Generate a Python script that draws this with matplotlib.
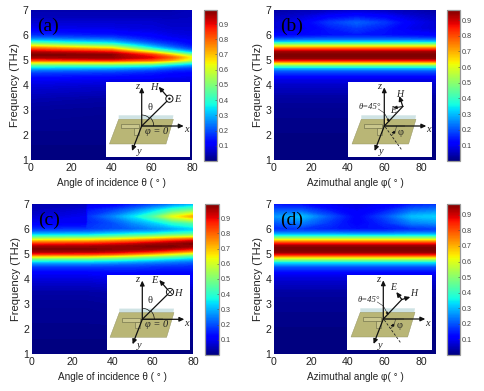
import numpy as np
import matplotlib
matplotlib.use("Agg")
import matplotlib.pyplot as plt
from matplotlib.cm import ScalarMappable
from matplotlib.colors import Normalize
from matplotlib.patches import Polygon, Rectangle, Circle, Arc

plt.rcParams['font.family'] = ['Liberation Sans', 'DejaVu Sans']

F = [1, 2, 3, 3.5, 4, 4.25, 4.5, 4.6, 4.7, 4.8, 4.9, 5, 5.1, 5.2, 5.3, 5.4, 5.5, 5.6, 5.7, 5.8, 5.9, 6, 6.25, 6.5, 6.75, 7]

THETA_A = [0, 40, 60, 70, 80]
a_0  = [.00,.01,.025,.045,.08,.11,.18,.24,.33,.45,.62,.82,.95,.99,.95,.85,.73,.57,.41,.29,.21,.16,.10,.07,.05,.04]
a_40 = [.00,.01,.02,.035,.07,.10,.17,.22,.31,.44,.63,.86,.97,.98,.90,.76,.60,.44,.32,.24,.18,.14,.09,.07,.05,.04]
a_60 = [.00,.01,.02,.035,.07,.10,.15,.19,.27,.40,.60,.80,.90,.84,.66,.46,.33,.25,.19,.15,.13,.11,.08,.07,.05,.04]
a_70 = [.00,.01,.02,.035,.07,.09,.13,.16,.22,.33,.50,.72,.80,.68,.47,.32,.23,.18,.15,.12,.10,.09,.07,.06,.05,.04]
a_80 = [.00,.01,.025,.04,.07,.09,.12,.15,.19,.27,.40,.58,.63,.49,.32,.21,.16,.13,.11,.10,.09,.08,.07,.06,.055,.05]

PHI_B = [0, 15, 30, 45, 60, 75, 88]
b_0  = [.00,.005,.015,.03,.06,.09,.17,.22,.31,.45,.64,.84,.95,.964,.93,.82,.66,.48,.33,.22,.15,.11,.07,.07,.05,.03]
b_15 = [.00,.005,.015,.03,.06,.09,.17,.22,.31,.45,.64,.84,.95,.964,.93,.82,.66,.48,.33,.23,.16,.12,.09,.10,.07,.04]
b_30 = [.00,.005,.015,.03,.06,.09,.17,.22,.31,.45,.64,.84,.95,.964,.93,.82,.66,.48,.33,.23,.17,.13,.14,.17,.11,.05]
b_45 = [.00,.005,.015,.03,.06,.09,.17,.22,.31,.45,.64,.84,.95,.964,.93,.82,.66,.48,.33,.23,.17,.14,.17,.21,.13,.06]
b_60 = [.00,.005,.015,.03,.06,.09,.17,.22,.31,.45,.64,.84,.95,.964,.93,.82,.66,.48,.33,.23,.17,.13,.14,.17,.11,.05]
b_75 = [.00,.005,.015,.03,.06,.09,.17,.22,.31,.45,.64,.84,.95,.964,.93,.82,.66,.48,.33,.23,.16,.12,.09,.10,.07,.04]
b_88 = [.00,.005,.015,.03,.06,.09,.17,.22,.31,.45,.64,.84,.95,.964,.93,.82,.66,.48,.33,.22,.15,.11,.07,.07,.05,.03]

THETA_C = [0, 27, 28, 40, 50, 60, 70, 80]
c_0  = [.00,.01,.02,.035,.08,.11,.18,.24,.33,.46,.64,.84,.96,.99,.95,.85,.72,.56,.41,.29,.21,.16,.10,.07,.05,.04]
c_27 = [.00,.01,.02,.035,.08,.11,.18,.24,.33,.45,.63,.83,.95,.99,.96,.87,.74,.58,.42,.30,.22,.17,.10,.10,.08,.05]
c_28 = [.00,.01,.02,.035,.08,.11,.18,.24,.33,.45,.63,.83,.95,.99,.96,.87,.74,.58,.42,.30,.22,.18,.16,.17,.14,.08]
c_40 = [.00,.01,.025,.04,.09,.12,.18,.23,.31,.43,.59,.80,.93,.98,.97,.89,.77,.61,.45,.33,.25,.20,.20,.25,.18,.10]
c_50 = [.00,.015,.03,.05,.10,.12,.18,.22,.29,.40,.55,.75,.90,.97,.98,.92,.80,.65,.48,.36,.27,.22,.26,.34,.24,.14]
c_60 = [.00,.015,.03,.05,.10,.12,.17,.21,.27,.37,.50,.69,.86,.96,.99,.95,.84,.69,.52,.38,.29,.25,.32,.44,.32,.18]
c_70 = [.00,.02,.035,.06,.10,.12,.16,.20,.25,.33,.45,.62,.79,.92,.99,.97,.89,.74,.56,.42,.33,.28,.40,.62,.42,.23]
c_80 = [.00,.02,.04,.06,.10,.12,.16,.19,.23,.30,.40,.55,.72,.87,.96,.99,.93,.78,.58,.44,.36,.32,.45,.72,.48,.28]

PHI_D = [0, 15, 30, 45, 60, 75, 88]
d_0  = [.00,.005,.015,.03,.07,.11,.20,.27,.36,.50,.67,.85,.95,.969,.94,.84,.69,.52,.38,.27,.20,.16,.20,.26,.20,.13]
d_15 = [.00,.005,.015,.03,.07,.11,.20,.27,.36,.50,.67,.85,.95,.969,.94,.84,.69,.52,.38,.27,.20,.17,.24,.30,.20,.12]
d_30 = [.00,.005,.015,.03,.07,.11,.20,.27,.36,.50,.67,.85,.95,.969,.94,.84,.69,.52,.38,.27,.19,.15,.17,.20,.14,.09]
d_45 = [.00,.005,.015,.03,.07,.11,.20,.27,.36,.50,.67,.85,.95,.969,.94,.84,.69,.52,.38,.26,.18,.13,.11,.11,.10,.08]
d_60 = [.00,.005,.015,.03,.07,.11,.20,.27,.36,.50,.67,.85,.95,.969,.94,.84,.69,.52,.38,.26,.18,.14,.16,.19,.14,.10]
d_75 = [.00,.005,.015,.03,.07,.11,.20,.27,.36,.50,.67,.85,.95,.969,.94,.84,.69,.52,.38,.27,.20,.16,.24,.30,.22,.14]
d_88 = [.00,.005,.015,.03,.07,.11,.20,.27,.36,.50,.67,.85,.95,.969,.94,.84,.69,.52,.38,.27,.20,.17,.26,.32,.24,.16]

X_TICKS = [0, 20, 40, 60, 80]
Y_TICKS = [1, 2, 3, 4, 5, 6, 7]
CB_TICKS = [.1, .2, .3, .4, .5, .6, .7, .8, .9]
XLABEL_THETA = "Angle of incidence \u03b8 ( \u00b0 )"
XLABEL_PHI = "Azimuthal angle \u03c6( \u00b0 )"
YLABEL = "Frequency (THz)"

W, H = 485, 391
fig = plt.figure(figsize=(W / 100, H / 100), dpi=100)


def box(x0, y0, x1, y1):
    return [x0 / W, 1 - y1 / H, (x1 - x0) / W, (y1 - y0) / H]


panels = [
    ("(a)", THETA_A, [a_0, a_40, a_60, a_70, a_80], .992, 80, XLABEL_THETA,
     (31, 10, 192, 160), (204, 10, 217, 161)),
    ("(b)", PHI_B, [b_0, b_15, b_30, b_45, b_60, b_75, b_88], .964, 88, XLABEL_PHI,
     (274, 10, 436, 160), (447, 10, 460, 161)),
    ("(c)", THETA_C, [c_0, c_27, c_28, c_40, c_50, c_60, c_70, c_80], .993, 80, XLABEL_THETA,
     (32, 204, 193, 354), (205, 204, 219, 355)),
    ("(d)", PHI_D, [d_0, d_15, d_30, d_45, d_60, d_75, d_88], .969, 88, XLABEL_PHI,
     (274, 204, 436, 354), (447, 204, 460, 355)),
]

for name, xs, cols, vmax, xmax, xlabel, b, cb in panels:
    ax = fig.add_axes(box(*b))
    norm = Normalize(0, vmax)
    Z = np.column_stack(cols)
    cs = ax.contourf(xs, F, Z, levels=np.linspace(0, vmax, 160), cmap='jet', norm=norm, extend='both')
    cs.set_edgecolor('face')
    cs.set_linewidth(0.2)
    ax.set_xlim(0, xmax)
    ax.set_ylim(1, 7)
    ax.set_xticks(X_TICKS)
    ax.set_yticks(Y_TICKS)
    ax.tick_params(length=0, labelsize=7.6, pad=2, colors='#222222')
    for s in ax.spines.values():
        s.set_visible(False)
    ax.set_xlabel(xlabel, fontsize=7.2, labelpad=4, color='#222222')
    ax.set_ylabel(YLABEL, fontsize=8, labelpad=2, color='#222222')
    ax.text(0.04, 0.89, name, transform=ax.transAxes, fontsize=14, family=['Liberation Serif'],
            va='center', ha='left', color='black')
    cax = fig.add_axes(box(*cb))
    cbar = fig.colorbar(ScalarMappable(norm=norm, cmap='jet'), cax=cax)
    cbar.set_ticks(CB_TICKS)
    cbar.set_ticklabels([f"{t:.1f}" for t in CB_TICKS])
    cax.tick_params(direction='in', length=1.5, width=0.4, labelsize=5.2, pad=1, colors='#444444')
    cbar.outline.set_linewidth(0.9)
    cbar.outline.set_edgecolor('#999999')

ov = fig.add_axes([0, 0, 1, 1], zorder=10)
ov.set_xlim(0, W)
ov.set_ylim(H, 0)
ov.axis('off')


def arrow(p, q, lw=0.9, ms=5):
    ov.annotate('', xy=q, xytext=p, arrowprops=dict(arrowstyle='-|>,head_width=0.13,head_length=0.28',
                lw=lw, color='#111111', shrinkA=0, shrinkB=0, mutation_scale=ms * 2))


def lab(x, y, s, size=7.5, style='italic'):
    ov.text(x, y, s, fontsize=size, family=['Liberation Serif', 'DejaVu Serif'], style=style, ha='center', va='center', color='#222222')


def inset(bx, ox, oy, kind):
    x0, y0, x1, y1 = bx
    ov.add_patch(Rectangle((x0, y0), x1 - x0, y1 - y0, fc='white', ec='none'))
    P = lambda pts: [(ox + a, oy + c) for a, c in pts]
    ov.add_patch(Polygon(P([(-23, -10.7), (31.7, -10.7), (31, -6.7), (-23, -6.7)]), fc='#cfe3e4', ec='none'))
    ov.add_patch(Polygon(P([(-23, -6.7), (31.7, -6.7), (24.3, 18), (-32.3, 18)]), fc='#b9b676', ec='#8f9060', lw=0.3))
    ov.add_patch(Polygon(P([(-20.7, -1.7), (-2.3, -1.7), (-2.3, 2.3), (-20.7, 2.3)]), fc='#c9c68c', ec='#77774e', lw=0.5))
    ov.add_patch(Polygon(P([(-7.3, 2.3), (-2.3, 2.3), (-2.3, 9), (-7.3, 9)]), fc='#c9c68c', ec='#77774e', lw=0.5))
    ov.add_patch(Polygon(P([(1, -1), (20.3, -1), (20.3, 0.7), (1, 0.7)]), fc='#8f8f5e', ec='none'))
    arrow((ox, oy), (ox, oy - 38.7))
    arrow((ox, oy), (ox + 42, oy))
    arrow((ox, oy), (ox - 9.7, oy + 25))
    lab(ox + 44.5, oy + 4, 'x')
    lab(ox - 3, oy + 26, 'y')
    lab(ox - 5, oy - 39.5, 'z')
    if kind in 'ac':
        cx, cy = ox + 27.7, oy - 27.3
        ov.plot([ox, cx - 2.5], [oy, cy + 2.5], color='#111111', lw=0.9)
        arrow((cx - 2.5, cy - 2.5), (ox + 17, oy - 39.3))
        ov.add_patch(Circle((cx, cy), 3.6, fc='white', ec='#111111', lw=0.7))
        if kind == 'a':
            ov.add_patch(Circle((cx, cy), 1.2, fc='#111111', ec='none'))
            lab(ox + 36, oy - 26, 'E')
            lab(ox + 12, oy - 39, 'H')
        else:
            d = 2.4
            ov.plot([cx - d, cx + d], [cy - d, cy + d], color='#111111', lw=0.5)
            ov.plot([cx - d, cx + d], [cy + d, cy - d], color='#111111', lw=0.5)
            lab(ox + 36, oy - 26, 'H')
            lab(ox + 12, oy - 39, 'E')
        lab(ox + 8, oy - 18.5, '\u03b8', style='normal')
        ov.add_patch(Arc((ox, oy), 22, 22, theta1=-90, theta2=-45, ec='#111111', lw=0.5))
        ov.add_patch(Arc((ox, oy), 24, 24, theta1=-45, theta2=0, ec='#111111', lw=0.5))
        lab(ox + 14.5, oy + 5.5, '\u03c6 = 0', style='italic')
    else:
        ex, ey = ox + 18.5, oy - 19.5
        ov.plot([ox, ex], [oy, ey], color='#111111', lw=0.9)
        ov.plot([ox + 1, ox + 17.5], [oy + 1, oy + 24], color='#222222', lw=0.6, ls=(0, (3, 2)))
        ov.add_patch(Polygon(P([(0, 0), (0, -8), (5, -7)]), fc='#e6d890', ec='none'))
        arrow((ox, oy - 13), (ox + 5, oy - 4), lw=0.4, ms=3)
        ov.plot([ox - 6, ox], [oy - 17, oy - 13], color='#333333', lw=0.4)
        lab(ox - 15, oy - 19, '\u03b8=45\u00b0', size=6.2)
        ov.add_patch(Arc((ox, oy), 24, 24, theta1=0, theta2=55, ec='#333333', lw=0.4))
        arrow((ox + 11, oy + 6), (ox + 7, oy + 7), lw=0.6, ms=3)
        lab(ox + 16, oy + 6.5, '\u03c6', style='normal')
        if kind == 'b':
            arrow((ex, ey), (ox + 15, oy - 30))
            arrow((ex, ey), (ox + 9, oy - 18), lw=0.7, ms=3.5)
            lab(ox + 15, oy - 31.5, 'H', size=7)
            lab(ox + 8.5, oy - 15.5, 'E', size=7)
        else:
            arrow((ex, ey), (ox + 27, oy - 22))
            arrow((ex, ey), (ox + 13, oy - 27))
            lab(ox + 30.5, oy - 25, 'H', size=7)
            lab(ox + 10, oy - 31, 'E', size=7)


inset((106, 82, 190, 157), 141.7, 126, 'a')
inset((348.3, 82, 432, 157), 384.3, 126, 'b')
inset((107, 275, 190, 350), 142.3, 319.3, 'c')
inset((346.7, 275, 432, 350), 383.3, 319, 'd')

fig.savefig("out.png", dpi=100)
